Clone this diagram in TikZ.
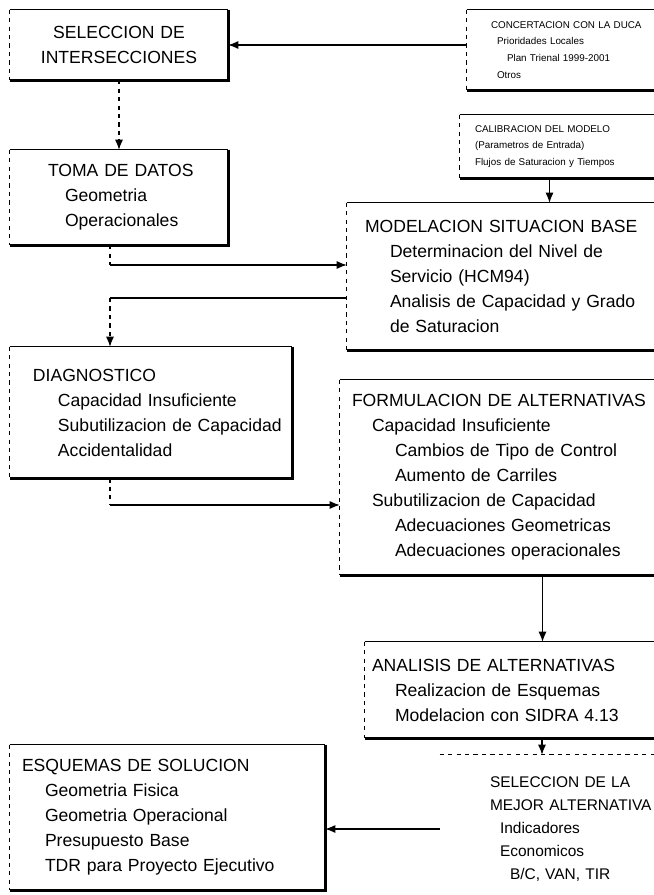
\documentclass[tikz,border=0pt]{standalone}
\usepackage{fontspec}
\setmainfont{Liberation Sans}
\setsansfont{Liberation Sans}
\usetikzlibrary{arrows.meta}

\tikzset{%
    >={Latex[width=2mm,length=2.5mm]},
    % Specifications for style of nodes:
    base/.style = {
        rectangle, inner sep=0pt, align=left,
        font=\sffamily\fontsize{12.5}{17.8}\selectfont
    },
    small/.style = {base, font=\sffamily\fontsize{7}{12}\selectfont},
    mid/.style = {base, font=\sffamily\fontsize{11}{16.5}\selectfont},
    link/.style = {line width=0.8pt},
    vlink/.style = {link, dashed}
}

\begin{document}
\begin{tikzpicture}
    \useasboundingbox[fill=white] (0,0) rectangle (16.35,-22.375);

    % left column
    \node[base, align=center, text width=5.45cm, minimum height=1.75cm] (sel) at (2.975,-1.125) {SELECCION DE\\INTERSECCIONES};
    \node[base, text width=5.45cm, minimum height=2.375cm] (toma) at (2.975,-4.9375) {\hspace*{0.95cm}TOMA DE DATOS\\ \hspace*{1.375cm}Geometria\\ \hspace*{1.375cm}Operacionales};
    \node[base, text width=7.05cm, minimum height=3.275cm] (diag) at (3.775,-10.3125) {\hspace*{0.575cm}DIAGNOSTICO\\ \hspace*{1.2cm}Capacidad Insuficiente\\ \hspace*{1.2cm}Subutilizacion de Capacidad\\ \hspace*{1.2cm}Accidentalidad};
    \node[base, text width=7.875cm, minimum height=3.625cm] (esq) at (4.1875,-20.4375) {\hspace*{0.3cm}ESQUEMAS DE SOLUCION\\ \hspace*{0.875cm}Geometria Fisica\\ \hspace*{0.875cm}Geometria Operacional\\ \hspace*{0.875cm}Presupuesto Base\\ \hspace*{0.875cm}TDR para Proyecto Ejecutivo};

    % right column
    \node[small, text width=5.825cm, minimum height=2cm] (conc) at (14.5875,-1.25) {\hspace*{0.6cm}CONCERTACION CON LA DUCA\\ \hspace*{0.75cm}Prioridades Locales\\ \hspace*{1.0cm}Plan Trienal 1999-2001\\ \hspace*{0.75cm}Otros};
    \node[small, text width=6cm, minimum height=1.575cm] (ajuste) at (14.5,-3.6625) {\hspace*{0.375cm}CALIBRACION DEL MODELO\\ \hspace*{0.375cm}(Parametros de Entrada)\\ \hspace*{0.375cm}Flujos de Saturacion y Tiempos};
    \node[base, text width=10.125cm, minimum height=3.675cm] (mod) at (13.7375,-6.9125) {\hspace*{0.45cm}MODELACION SITUACION BASE\\ \hspace*{1.075cm}Determinacion del Nivel de\\ \hspace*{1.075cm}Servicio (HCM94)\\ \hspace*{1.075cm}Analisis de Capacidad y Grado\\ \hspace*{1.075cm}de Saturacion};
    \node[base, text width=10.125cm, minimum height=4.875cm] (form) at (13.5625,-11.9375) {\hspace*{0.3cm}FORMULACION DE ALTERNATIVAS\\ \hspace*{0.8cm}Capacidad Insuficiente\\ \hspace*{1.375cm}Cambios de Tipo de Control\\ \hspace*{1.375cm}Aumento de Carriles\\ \hspace*{0.8cm}Subutilizacion de Capacidad\\ \hspace*{1.375cm}Adecuaciones Geometricas\\ \hspace*{1.375cm}Adecuaciones operacionales};
    \node[base, text width=8.85cm, minimum height=2.4cm] (anal) at (13.55,-17.25) {\hspace*{0.175cm}ANALISIS DE ALTERNATIVAS\\ \hspace*{0.75cm}Realizacion de Esquemas\\ \hspace*{0.75cm}Modelacion con SIDRA 4.13};
    \node[mid, text width=6cm, minimum height=3.7cm] (mejor) at (14,-20.725) {\hspace*{1.25cm}SELECCION DE LA\\ \hspace*{1.25cm}MEJOR ALTERNATIVA\\ \hspace*{1.5cm}Indicadores\\ \hspace*{1.5cm}Economicos\\ \hspace*{1.75cm}B/C, VAN, TIR};

    % box borders: thin top and left, heavy right and bottom
    \foreach \b in {sel,toma,diag,esq,conc,ajuste,mod,form,anal} {
        \draw[link] (\b.north west) -- (\b.north east);
        \draw[link, dashed] (\b.north west) -- (\b.south west);
        \draw[line width=2.5pt] (\b.north east) -- (\b.south east) -- (\b.south west);
    }
    \draw[link, dashed] (mejor.north west) -- (mejor.north east);

    % connectors
    \coordinate (k0) at (2.75,-6.625);
    \coordinate (k1) at (2.75,-7.45);
    \coordinate (k2) at (2.75,-12.625);
    \draw[link,->] (sel.east -| conc.west) -- (sel.east);
    \draw[vlink,->] (sel.south) -- (toma.north);
    \draw[vlink] (toma.south -| k0) -- (k0);
    \draw[link,->] (k0) -- (k0 -| mod.west);
    \draw[link,->] (mod.north |- ajuste.south) -- (mod.north);
    \draw[link] (k1 -| mod.west) -- (k1);
    \draw[vlink,->] (k1) -- (k1 |- diag.north);
    \draw[vlink] (k2 |- diag.south) -- (k2);
    \draw[link,->] (k2) -- (k2 -| form.west);
    \draw[link,->] (form.south) -- (form.south |- anal.north);
    \draw[link,->] (anal.south) -- (anal.south |- mejor.north);
    \draw[link,->] (mejor.west) -- (mejor.west -| esq.east);
\end{tikzpicture}
\end{document}
